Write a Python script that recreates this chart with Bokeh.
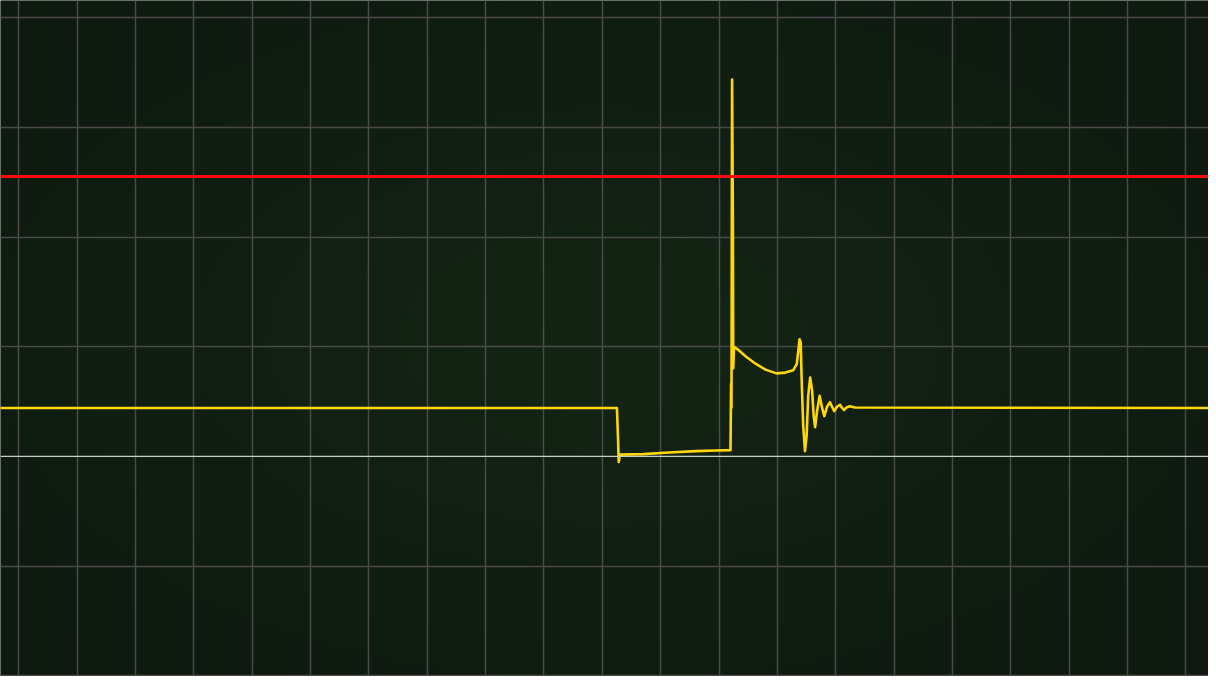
import numpy as np
from bokeh.plotting import figure
from bokeh.models import Range1d, Grid, FixedTicker, Span
from bokeh.embed import file_html
from bokeh.resources import INLINE

# ---- data (time in divisions, voltage in divisions; 0 V at the reference line) ----
time_div = [-0.4, 10.250, 10.267, 10.281, 10.301, 10.701, 11.144, 11.603, 11.944, 12.196,
            12.206, 12.213, 12.223, 12.237, 12.243, 12.257, 12.318, 12.454, 12.625, 12.795,
            12.982, 13.135, 13.271, 13.331, 13.357, 13.379, 13.399, 13.416, 13.442, 13.472,
            13.501, 13.527, 13.561, 13.595, 13.621, 13.646, 13.680, 13.723, 13.765, 13.804,
            13.850, 13.901, 13.935, 13.974, 14.020, 14.071, 14.105, 14.140, 14.191, 14.242,
            14.326, 20.6]
volt_div = [0.441, 0.441, 0.192, -0.051, 0.016, 0.021, 0.036, 0.048, 0.054, 0.057,
            0.660, 0.444, 3.435, 2.174, 0.805, 0.998, 0.976, 0.913, 0.845, 0.791,
            0.757, 0.764, 0.786, 0.841, 0.958, 1.068, 1.039, 0.687, 0.282, 0.048,
            0.192, 0.552, 0.719, 0.597, 0.372, 0.267, 0.417, 0.552, 0.444, 0.366,
            0.453, 0.494, 0.453, 0.413, 0.453, 0.471, 0.444, 0.423, 0.449, 0.458,
            0.446, 0.441]
trigger_level = 2.552
ground_level = 0.0
x_grid_ticks = list(range(0, 21))
y_grid_ticks = [-2, -1, 1, 2, 3, 4]

# ---- view ----
W, H = 1208, 676
x0, x1 = -0.3115, 20.386
y0, y1 = -2.0063, 4.1559

p = figure(width=W, height=H, output_backend="svg", toolbar_location=None,
           x_axis_type=None, y_axis_type=None,
           x_range=Range1d(x0, x1), y_range=Range1d(y0, y1),
           min_border=0, outline_line_color=None)
p.background_fill_color = "#101c10"
p.border_fill_color = "#101c10"

# radial background glow
nx, ny = 604, 338
gx = np.linspace(-1, 1, nx)
gy = np.linspace(-1, 1, ny)
GX, GY = np.meshgrid(gx, gy)
r = np.clip(np.sqrt(GX**2 + GY**2) / 1.35, 0, 1)
center = np.array([20, 37, 21])
edge = np.array([14, 25, 15])
img = np.zeros((ny, nx), dtype=np.uint32)
view = img.view(dtype=np.uint8).reshape((ny, nx, 4))
for k in range(3):
    view[:, :, k] = (center[k] * (1 - r) + edge[k] * r).astype(np.uint8)
view[:, :, 3] = 255
p.image_rgba(image=[img], x=x0, y=y0, dw=x1 - x0, dh=y1 - y0, level="image")

# grid
xg = Grid(dimension=0, ticker=FixedTicker(ticks=x_grid_ticks),
          grid_line_color="#4a4a4a", grid_line_width=1.5)
yg = Grid(dimension=1, ticker=FixedTicker(ticks=y_grid_ticks),
          grid_line_color="#4a4a4a", grid_line_width=1.5)
p.add_layout(xg)
p.add_layout(yg)

# ground reference line
p.add_layout(Span(location=ground_level, dimension="width",
                  line_color="#c9cec6", line_width=1.3))

# trigger level
p.add_layout(Span(location=trigger_level, dimension="width",
                  line_color="#ff0a0a", line_width=3))

# trace
p.line(time_div, volt_div, line_color="#ffd70a", line_width=2.6, line_join="round")

open("out.html", "w").write(file_html(p, INLINE))
